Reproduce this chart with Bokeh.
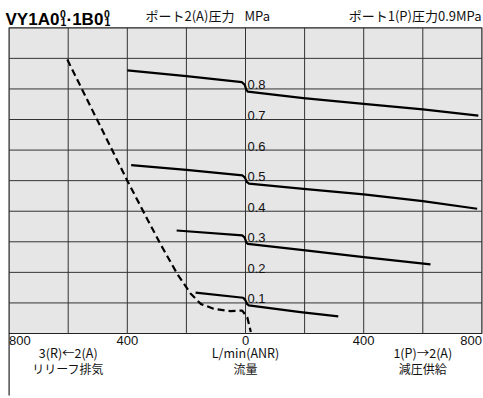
from bokeh.plotting import figure
from bokeh.models import Range1d, Label, ColumnDataSource
from bokeh.core.properties import value
from bokeh.embed import file_html
from bokeh.resources import INLINE

# ---------------- data ----------------
x_ticks = [-800, -400, 0, 400, 800]
x_tick_labels = ["800", "400", "0", "400", "800"]
x_tick_align = ["left", "center", "center", "center", "right"]
grid_flows = [-600, -400, -200, 0, 200, 400, 600]
grid_pressures = [0.1, 0.2, 0.3, 0.4, 0.5, 0.6, 0.7, 0.8, 0.9]
set_pressures = [0.8, 0.7, 0.6, 0.5, 0.4, 0.3, 0.2, 0.1]
set_labels = ["0.8", "0.7", "0.6", "0.5", "0.4", "0.3", "0.2", "0.1"]

flow_08 = [-400, -200, -12, -3, 3, 8, 196, 400, 600, 788]
pres_08 = [0.861, 0.842, 0.822, 0.814, 0.797, 0.791, 0.770, 0.751, 0.733, 0.713]

flow_05 = [-387, -200, -10, -2, 5, 12, 196, 400, 600, 784]
pres_05 = [0.551, 0.535, 0.517, 0.510, 0.495, 0.490, 0.473, 0.455, 0.433, 0.408]

flow_03 = [-233, -11, -3, 3, 8, 203, 400, 626]
pres_03 = [0.337, 0.321, 0.314, 0.298, 0.293, 0.272, 0.250, 0.226]

flow_01 = [-169, -8, -1, 6, 11, 186, 314]
pres_01 = [0.134, 0.117, 0.110, 0.096, 0.092, 0.070, 0.056]

flow_relief = [-603, -500, -400, -330, -288, -231, -186, -152, -108, -51, -11, 6, 18]
pres_relief = [0.896, 0.695, 0.500, 0.370, 0.293, 0.195, 0.131, 0.097, 0.081, 0.073, 0.075, 0.053, 0.005]

bottom_label_flows = [-600, 0, 600]
bottom_line1 = ["3(R)←2(A)", "L/min(ANR)", "1(P)→2(A)"]
bottom_line2 = ["リリーフ排気", "流量", "減圧供給"]

# ---------------- figure ----------------
W, H = 483, 398
p = figure(width=W, height=H, x_range=Range1d(-829.1, 805.4), y_range=Range1d(-0.2126, 1.0893),
           output_backend="svg", toolbar_location=None, min_border=0,
           x_axis_type=None, y_axis_type=None)
p.grid.visible = False
p.outline_line_color = None
p.background_fill_color = "white"
p.border_fill_color = "white"

GRID = "#333333"
# chart area
p.quad(left=[-800], right=[800], bottom=[0], top=[1.0], fill_color="#e6e6e6",
       line_color="#222222", line_width=1.2)
p.segment(x0=grid_flows, y0=[0] * len(grid_flows), x1=grid_flows, y1=[1.0] * len(grid_flows),
          line_color=GRID, line_width=1)
p.segment(x0=[-800] * len(grid_pressures), y0=grid_pressures, x1=[800] * len(grid_pressures),
          y1=grid_pressures, line_color=GRID, line_width=1)
# left line extended down
p.segment(x0=[-800], y0=[0], x1=[-800], y1=[-0.203], line_color="#222222", line_width=1.2)

# curves
for fx, py in [(flow_08, pres_08), (flow_05, pres_05), (flow_03, pres_03), (flow_01, pres_01)]:
    p.line(fx, py, line_color="black", line_width=2.2, line_join="round")
p.line(flow_relief, pres_relief, line_color="black", line_width=2.2, line_dash="7 4")

# pressure labels
p.text(x=[0] * len(set_pressures), y=set_pressures, text=set_labels, x_offset=2, y_offset=-4,
       text_baseline="alphabetic", text_align="left", text_font=value("Liberation Sans"),
       text_font_size="13px", text_color="#111111")

# x tick labels
src_ticks = ColumnDataSource(dict(x=x_ticks, y=[0] * len(x_ticks), t=x_tick_labels, a=x_tick_align))
p.text(x="x", y="y", text="t", text_align="a", source=src_ticks, y_offset=2, x_offset=0,
       text_baseline="top", text_font=value("Liberation Sans"), text_font_size="13px",
       text_color="#111111")

# bottom labels
for fx, t1, t2 in zip(bottom_label_flows, bottom_line1, bottom_line2):
    p.add_layout(Label(x=fx, y=H - 352, x_units="data", y_units="screen", text=t1,
                       text_align="center", text_baseline="middle",
                       text_font="Noto Sans CJK JP", text_font_size="12.5px", text_color="#111111"))
    p.add_layout(Label(x=fx, y=H - 368, x_units="data", y_units="screen", text=t2,
                       text_align="center", text_baseline="middle",
                       text_font="Noto Sans CJK JP", text_font_size="12px", text_color="#111111"))

# top texts
def top_label(x, txt, align):
    p.add_layout(Label(x=x, y=H - 15, x_units="screen", y_units="screen", text=txt,
                       text_align=align, text_baseline="middle", text_font="Noto Sans CJK JP",
                       text_font_size="13px", text_color="#111111"))

top_label(145, "ポート2(A)圧力", "left")
top_label(244, "MPa", "left")
top_label(481, "ポート1(P)圧力0.9MPa", "right")

# title with stacked super/subscripts
TF = "Liberation Sans"
def tlabel(x, y, txt, size):
    p.add_layout(Label(x=x, y=H - y, x_units="screen", y_units="screen", text=txt,
                       text_align="left", text_baseline="alphabetic", text_font=TF,
                       text_font_style="bold", text_font_size=size, text_color="black"))

tlabel(5, 19, "VY1A0", "17px")
tlabel(59.5, 13, "0", "10.5px")
tlabel(60, 21, "1", "10.5px")
tlabel(66, 19, "·1B0", "17px")
tlabel(103.5, 13, "0", "10.5px")
tlabel(104, 21, "1", "10.5px")

open("out.html", "w").write(file_html(p, INLINE))
